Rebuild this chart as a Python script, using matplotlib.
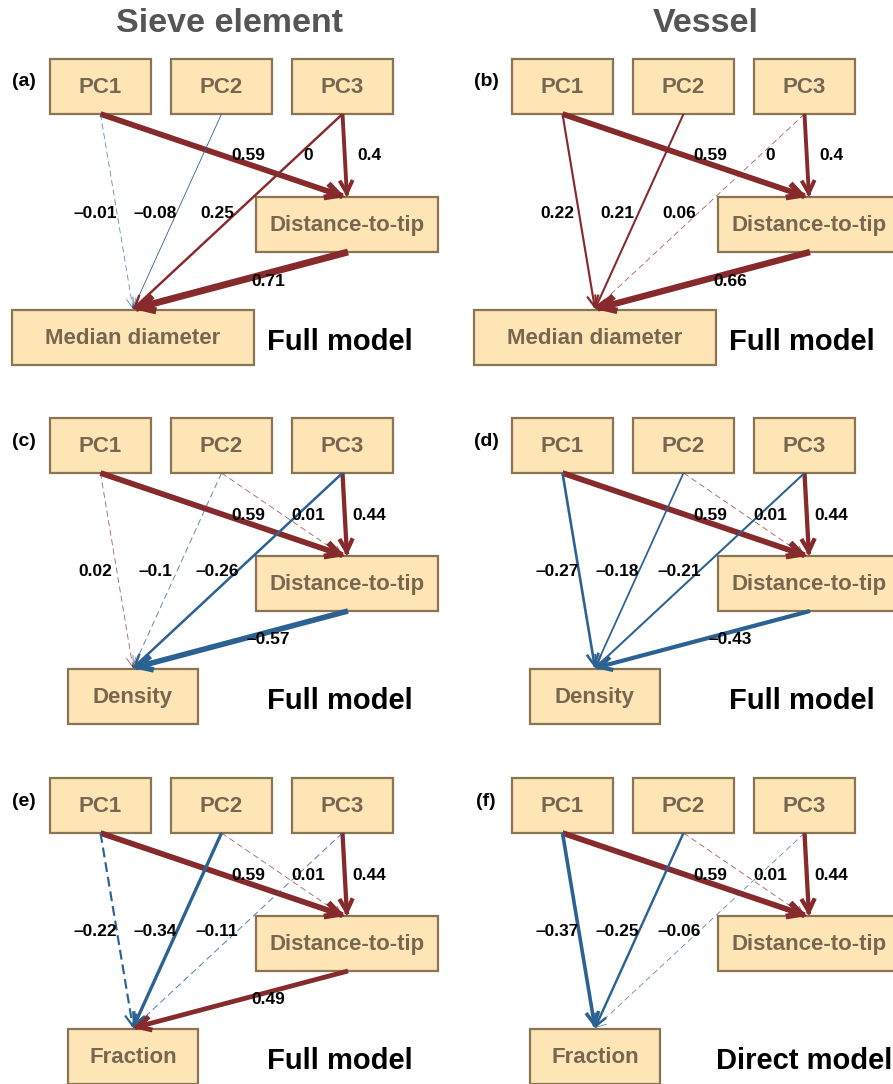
import numpy as np
import matplotlib
matplotlib.use("Agg")
import matplotlib.pyplot as plt
from matplotlib.patches import Rectangle, FancyArrowPatch

plt.rcParams['font.family'] = ['Liberation Sans', 'DejaVu Sans']
plt.rcParams['lines.scale_dashes'] = False

# data
panel_tags = ['(a)', '(b)', '(c)', '(d)', '(e)', '(f)']
column_titles = ['Sieve element', 'Vessel']
predictors = ['PC1', 'PC2', 'PC3']
mediator = 'Distance-to-tip'
responses = ['Median diameter', 'Median diameter', 'Density', 'Density',
             'Fraction', 'Fraction']
model_names = ['Full model'] * 5 + ['Direct model']

coef_pc_dtt = [[0.59, 0, 0.4], [0.59, 0, 0.4], [0.59, 0.01, 0.44],
               [0.59, 0.01, 0.44], [0.59, 0.01, 0.44], [0.59, 0.01, 0.44]]
solid_pc_dtt = [[1, 1, 1], [1, 1, 1], [1, 0, 1], [1, 0, 1], [1, 0, 1], [1, 0, 1]]
coef_pc_resp = [[-0.01, -0.08, 0.25], [0.22, 0.21, 0.06], [0.02, -0.1, -0.26],
                [-0.27, -0.18, -0.21], [-0.22, -0.34, -0.11], [-0.37, -0.25, -0.06]]
solid_pc_resp = [[0, 1, 1], [1, 1, 0], [0, 0, 1], [1, 1, 1], [0, 1, 0], [1, 1, 0]]
coef_dtt_resp = [0.71, 0.66, -0.57, -0.43, 0.49, None]

RED = '#862a2c'
BLUE = '#2c6292'
BOX_FC = '#fee5b6'
BOX_EC = '#8a7553'
BOX_TXT = '#776750'

fig = plt.figure(figsize=(8.93, 10.84), dpi=100)
ax = fig.add_axes([0, 0, 1, 1])
ax.set_xlim(0, 893)
ax.set_ylim(1084, 0)
ax.axis('off')

col_dx = [0, 462]
row_dy = [0, 359, 719]


def box(x0, y0, w, h, label):
    ax.add_patch(Rectangle((x0, y0), w, h, facecolor=BOX_FC, edgecolor=BOX_EC,
                           lw=1.6, zorder=1))
    ax.text(x0 + w / 2, y0 + h / 2 + 1, label, ha='center', va='center',
            fontsize=16, fontweight='bold', color=BOX_TXT, zorder=2)


def path_arrow(p0, p1, c, solid):
    if c == 0:
        return
    lw = max(7 * abs(c), 0.6)
    color = RED if c > 0 else BLUE
    alpha = 1.0 if (solid or abs(c) > 0.15) else 0.75
    p0 = np.array(p0, float)
    p1 = np.array(p1, float)
    d = (p1 - p0) / np.hypot(*(p1 - p0))
    end = p1 - d * lw * 0.6
    if solid:
        ls = '-'
    else:
        ls = (0, (2.5 + 3 * lw, 2 + lw))
    ax.plot([p0[0], end[0]], [p0[1], end[1]], color=color, lw=lw, ls=ls,
            alpha=alpha, solid_capstyle='butt', dash_capstyle='butt', zorder=3)
    hl = 7 + 5 * abs(c)
    hw = 3.5 + 3 * abs(c)
    ax.add_patch(FancyArrowPatch(p1 - d * 3, p1,
                                 arrowstyle=f'->,head_length={hl},head_width={hw}',
                                 mutation_scale=1, color=color, lw=lw, alpha=alpha,
                                 shrinkA=0, shrinkB=0, joinstyle='miter',
                                 capstyle='butt', zorder=3))


def fmt(c):
    return f'{c:g}'.replace('-', '\u2013')


for i in range(6):
    ox = col_dx[i % 2]
    oy = row_dy[i // 2]
    # boxes
    pc_x = [50, 171, 292]
    for k, name in enumerate(predictors):
        box(ox + pc_x[k], oy + 59, 101, 55, name)
    box(ox + 256, oy + 197, 182, 55, mediator)
    rw = 242 if responses[i] == 'Median diameter' else 130
    box(ox + 133 - rw / 2, oy + 310, rw, 55, responses[i])

    pc_bottom = [(ox + pc_x[k] + 50.5, oy + 114) for k in range(3)]
    dtt_top = [(ox + 345, oy + 197), (ox + 343, oy + 197), (ox + 347, oy + 197)]
    resp_top = (ox + 133, oy + 309)

    for k in range(3):
        path_arrow(pc_bottom[k], dtt_top[k], coef_pc_dtt[i][k], solid_pc_dtt[i][k])
        path_arrow(pc_bottom[k], resp_top, coef_pc_resp[i][k], solid_pc_resp[i][k])
    if coef_dtt_resp[i] is not None:
        path_arrow((ox + 348, oy + 252), resp_top, coef_dtt_resp[i], True)

    # coefficient labels
    for k, lx in enumerate([248, 308, 369]):
        ax.text(ox + lx, oy + 156, fmt(coef_pc_dtt[i][k]), ha='center', va='center',
                fontsize=12.5, fontweight='bold', color='black', zorder=5)
    for k, lx in enumerate([95, 155, 217]):
        ax.text(ox + lx, oy + 213, fmt(coef_pc_resp[i][k]), ha='center', va='center',
                fontsize=12.5, fontweight='bold', color='black', zorder=5)
    if coef_dtt_resp[i] is not None:
        ax.text(ox + 268, oy + 281, fmt(coef_dtt_resp[i]), ha='center', va='center',
                fontsize=12.5, fontweight='bold', color='black', zorder=5)

    ax.text(ox + 24, oy + 82, panel_tags[i], ha='center', va='center',
            fontsize=14, fontweight='bold', color='black')
    mx = 267 if model_names[i] == 'Full model' else 254
    ax.text(ox + mx, oy + 342, model_names[i], ha='left', va='center',
            fontsize=21, fontweight='bold', color='black')

for t, cx in zip(column_titles, [229, 706]):
    ax.text(cx, 24, t, ha='center', va='center', fontsize=24.5,
            fontweight='bold', color='#555555')

fig.savefig('out.png', dpi=100)
